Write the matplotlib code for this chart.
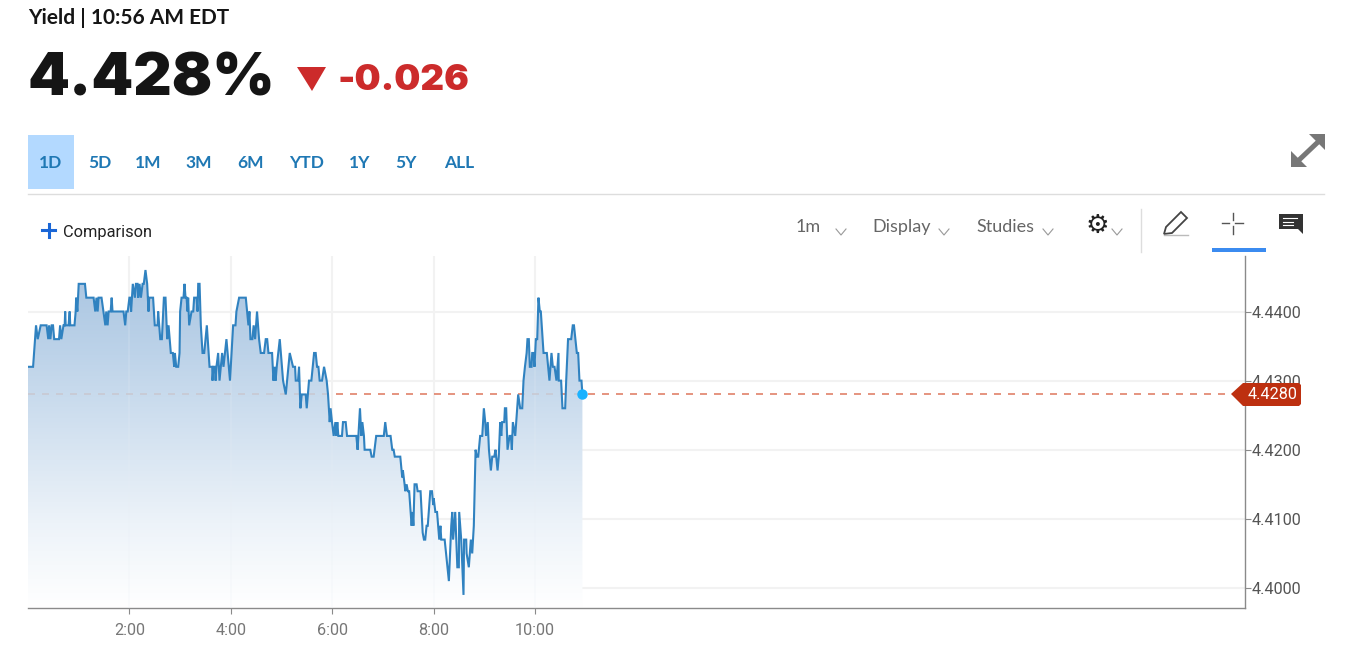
import numpy as np
import matplotlib
matplotlib.use("Agg")
import matplotlib.pyplot as plt
from matplotlib.patches import Polygon, Rectangle, Circle
from matplotlib.colors import LinearSegmentedColormap

minutes = [0,6,9.5,11.5,15,22,24,25,26.5,28,29.6,31,36.7,38,39.4,42,43.4,44,44.6,48,49.3,50,55,56.4,57,58.4,60,67.4,69,
 77.6,79.6,81,82.4,83.5,87,91.5,92.6,94.2,95.4,97.8,99,100,113,115,116.3,118,120,121,122,124,126.5,127.7,129.6,130.4,132,133.6,135.6,137,139,141,
 142.6,143.4,148,150,153.3,154,155.3,156.5,158.4,160.8,162.7,164.7,166.3,169,171.4,173,173.8,175.4,177.7,179.3,180,181.7,184,185.2,186.4,187.6,188.8,189.5,190.7,
 193.5,195.5,196.6,199.4,200.6,201.4,203,204.5,206.5,208.5,211.6,214.8,218,218.3,219.5,221,222,223,225,226.6,229.7,231.3,234.8,239,242.7,245.5,
 246.6,249.8,257.7,260.8,262,263.2,265.5,267,268.7,271,273.4,275.4,279.3,281.3,283,284.5,288.8,290.4,292,293,294.3,297.9,301.8,305,309.7,313.6,316,316.8,319.5,320.7,
 322.3,323.9,328.6,329.8,332.5,335.3,338.5,340.4,342,343.6,345.1,347.9,350.3,353.4,355,357,358,359.7,361.7,363.7,364.9,366,367.2,371.5,372.7,375.9,377.5,388.5,
 390,392.8,394.4,395.6,397.5,398.3,405,406.6,409,412,421,422.7,424.7,429,431,432.6,434,440.5,442.8,443.6,445.6,446.4,448,449.5,451,452.7,453.9,455,456,457.4,459.8,461,464.5,
 467,468.5,470,471.6,473,476,478,479.5,480,482,484,486.6,488,489,493,498,500.8,502,503,505.5,508,509.8,510.2,512.6,515.3,516,518.5,519,521.6,524,525.6,527.5,
 529.6,531,532.7,535,537.5,539.4,541,542,544,545.4,547.7,549.3,551.7,553.2,555.6,557,558.7,560,561,563.5,564.3,565.8,567.4,569.8,571.4,572.5,573.7,576.5,580,582.4,584.8,
 586.3,588,590,591,592.6,593.8,595.8,596.6,598,599.3,600.9,602.5,604,605.6,606.8,610,613.9,617,619.4,621,623,625.3,627.7,628,630.8,632.4,635.6,636.8,639,642.7,644.6,646,649.4,651,652.5,654.9,656]
yields = [4.432,4.432,4.438,4.436,4.438,4.438,4.436,4.438,4.436,4.438,4.438,4.436,4.436,4.438,4.436,4.438,4.438,4.440,4.438,4.438,4.440,4.438,4.438,4.440,4.442,4.440,4.444,4.444,4.442,
 4.442,4.440,4.442,4.440,4.442,4.442,4.438,4.440,4.438,4.440,4.440,4.442,4.440,4.440,4.438,4.440,4.440,4.442,4.442,4.440,4.444,4.442,4.444,4.444,4.442,4.444,4.442,4.444,4.444,4.446,4.444,
 4.440,4.442,4.442,4.438,4.438,4.440,4.438,4.436,4.436,4.442,4.442,4.436,4.438,4.434,4.434,4.432,4.434,4.432,4.432,4.434,4.440,4.442,4.442,4.444,4.442,4.442,4.440,4.442,4.438,
 4.440,4.440,4.442,4.442,4.440,4.444,4.444,4.438,4.434,4.434,4.438,4.432,4.432,4.430,4.432,4.432,4.430,4.432,4.434,4.430,4.434,4.432,4.436,4.430,4.438,4.438,
 4.440,4.442,4.442,4.438,4.440,4.436,4.436,4.438,4.436,4.440,4.436,4.434,4.434,4.436,4.436,4.434,4.434,4.430,4.432,4.430,4.432,4.436,4.430,4.428,4.434,4.432,4.432,4.430,4.430,4.432,
 4.426,4.428,4.428,4.426,4.430,4.430,4.434,4.434,4.432,4.432,4.430,4.430,4.432,4.430,4.428,4.424,4.426,4.424,4.422,4.424,4.422,4.424,4.422,4.422,4.424,4.424,4.422,4.422,
 4.420,4.426,4.422,4.424,4.422,4.420,4.420,4.419,4.419,4.422,4.422,4.424,4.422,4.422,4.420,4.420,4.419,4.419,4.416,4.417,4.415,4.414,4.415,4.414,4.414,4.411,4.409,4.411,4.409,4.415,4.415,4.414,4.414,
 4.408,4.407,4.407,4.409,4.409,4.414,4.414,4.412,4.413,4.411,4.411,4.407,4.409,4.407,4.407,4.401,4.409,4.411,4.407,4.411,4.403,4.403,4.411,4.407,4.399,4.407,4.407,4.405,4.403,4.407,4.405,4.409,
 4.420,4.419,4.419,4.422,4.422,4.426,4.424,4.422,4.424,4.420,4.417,4.419,4.419,4.420,4.417,4.419,4.424,4.422,4.424,4.424,4.426,4.426,4.420,4.422,4.422,4.420,4.424,4.422,4.428,4.426,4.426,
 4.430,4.432,4.434,4.436,4.436,4.432,4.432,4.434,4.434,4.432,4.436,4.436,4.442,4.440,4.440,4.434,4.434,4.430,4.434,4.432,4.432,4.430,4.434,4.430,4.430,4.426,4.426,4.430,4.436,4.436,4.438,4.438,4.434,4.434,4.430,4.430,4.428]
x_ticks = [120,240,360,480,600]
x_tick_labels = ["2:00","4:00","6:00","8:00","10:00"]
y_ticks = [4.40,4.41,4.42,4.43,4.44]
y_tick_labels = ["4.4000","4.4100","4.4200","4.4300","4.4400"]
last_yield = 4.428
ranges = ["1D","5D","1M","3M","6M","YTD","1Y","5Y","ALL"]
range_centers = [51,99.5,148.5,198.5,250.5,307,359.5,406,459]

W, H = 1346, 646
fig = plt.figure(figsize=(W/100, H/100), dpi=100, facecolor="white")
L, R, T, B = 28, 1245, 256, 608
ax = fig.add_axes([L/W, 1-B/H, (R-L)/W, (B-T)/H])
ax.set_xlim(0, 1440)
ax.set_ylim(4.40-20/6912, 4.44+55.5/6912)
ax.set_facecolor("white")
for s in ["top","left"]:
    ax.spines[s].set_visible(False)
for s in ["right","bottom"]:
    ax.spines[s].set_color("#8a8a8a")
    ax.spines[s].set_linewidth(1.0)
ax.yaxis.tick_right()
ax.set_xticks(x_ticks, x_tick_labels)
ax.set_yticks(y_ticks, y_tick_labels)
ax.tick_params(axis="x", length=4, width=0.8, color="#8a8a8a", labelcolor="#777777", pad=7)
ax.tick_params(axis="y", length=4, width=0.8, color="#8a8a8a", labelcolor="#555555", pad=1)
for t in ax.get_xticklabels()+ax.get_yticklabels():
    t.set_fontfamily("Roboto"); t.set_fontsize(11.7)
ax.grid(True, color="#f2f2f2", linewidth=1.5, zorder=0)
ax.set_axisbelow(True)

ax.axhline(last_yield, color="#e0826a", lw=1.2, dashes=(4.2,4.2), zorder=1)
# gradient area
cmap = LinearSegmentedColormap.from_list("g", ["#a9c5e1","#bdd3e9","#d5e3f1","#edf3f9","#ffffff"])
grad = np.linspace(0,1,256).reshape(-1,1)
ylo, yhi = ax.get_ylim()
im = ax.imshow(grad, cmap=cmap, extent=[0,1440,ylo,4.446], origin="upper", aspect="auto", zorder=2)
clip = Polygon(list(zip(minutes, yields))+[(minutes[-1],ylo),(minutes[0],ylo)], transform=ax.transData, fc="none", ec="none")
ax.add_patch(clip)
im.set_clip_path(clip)
ax.set_xlim(0, 1440); ax.set_ylim(ylo, yhi)
for v in x_ticks:
    l = ax.axvline(v, color="#e8eef5", lw=1.2, alpha=0.2, zorder=3); l.set_clip_path(clip)
h = ax.axhline(last_yield, color="#c9c9d2", lw=1.2, dashes=(4.2,4.2), zorder=3); h.set_clip_path(clip)
ax.plot(minutes, yields, color="#3082c0", lw=1.5, zorder=4, solid_joinstyle="miter")
ax.plot([minutes[-1]],[last_yield], "o", ms=6.5, color="#1ab2ff", zorder=5, clip_on=False)

# overlay in screen pixels for the page furniture
ov = fig.add_axes([0,0,1,1], zorder=10)
ov.set_xlim(0,W); ov.set_ylim(H,0); ov.axis("off"); ov.patch.set_alpha(0)
ov.add_patch(Polygon([(1231,394),(1243,383),(1299,383),(1301,385),(1301,404),(1299,406),(1243,406)], fc="#bd3010", ec="none"))
ov.text(1272.5,394.5,"4.4280",color="white",family="Roboto",fontsize=11.7,ha="center",va="center")

ov.text(28,18.5,"Yield | 10:56 AM EDT",family="Lato",weight="bold",fontsize=15,color="#151515",va="center")
ov.text(27,80,"4.428%",family="Inter",weight=900,fontsize=43,color="#151515",va="center")
ov.add_patch(Polygon([(297,67),(326,67),(312,91)],fc="#cc2b2b",ec="none"))
ov.text(338,81,"-0.026",family="Inter",weight=900,fontsize=26.5,color="#cc2b2b",va="center")

ov.add_patch(Rectangle((28,135),46,54,fc="#b3d9ff",ec="none"))
for c,lab in zip(range_centers,ranges):
    ov.text(c,163.5,lab,family="Lato",weight="bold",fontsize=12.5,color="#1f78b4",ha="center",va="center")
ov.plot([28,1324],[193.8,193.8],color="#dddddd",lw=1)

# comparison
ov.plot([42,55],[230,230],color="#1a66d6",lw=2.2)
ov.plot([48.5,48.5],[223.5,236.5],color="#1a66d6",lw=2.2)
ov.text(63,232,"Comparison",family="Roboto",fontsize=11.8,color="#222222",va="center")
# toolbar
for x,lab in [(796,"1m"),(872,"Display"),(976,"Studies")]:
    ov.text(x,227,lab,family="Lato",fontsize=13,color="#666666",va="center")
for c in [841,944,1048,1117]:
    ov.plot([c-5,c,c+5],[229,235,229],color="#999999",lw=0.8)
ov.text(1097,225.5,"\u2699",family="DejaVu Sans",fontsize=19,weight="bold",color="#222222",ha="center",va="center")
ov.plot([1141,1141],[209,252],color="#dddddd",lw=1)
# pencil
ov.add_patch(Polygon([(1164,234),(1166,227),(1181,212),(1187,218),(1172,233)],fc="white",ec="#444444",lw=1.3))
ov.plot([1164,1188],[235,235],color="#bbbbbb",lw=1)
# crosshair
for a,b in [((1222,223),(1229,223)),((1235,223),(1243,223)),((1232.5,213),(1232.5,220)),((1232.5,226),(1232.5,234))]:
    ov.plot([a[0],b[0]],[a[1],b[1]],color="#555555",lw=1)
ov.add_patch(Rectangle((1212,248),54,4,fc="#3b8bf0",ec="none"))
# comment
ov.add_patch(Polygon([(1279,214),(1303,214),(1303,234),(1298,229),(1279,229)],fc="#333333",ec="none"))
for y,x2 in [(218,1297),(221.5,1293),(225,1293)]:
    ov.plot([1283,x2],[y,y],color="white",lw=0.8)
# expand
ov.plot([1299,1318],[160,142],color="#777777",lw=3.6)
ov.add_patch(Polygon([(1309,134),(1325,134),(1325,150)],fc="#777777",ec="none"))
ov.add_patch(Polygon([(1291,151),(1291,167),(1307,167)],fc="#777777",ec="none"))

fig.savefig("out.png", dpi=100, facecolor="white")
